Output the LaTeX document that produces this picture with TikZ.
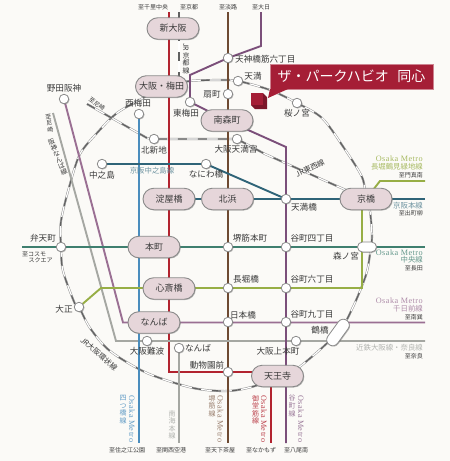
\documentclass[tikz,border=0pt]{standalone}
\usepackage{fontspec}
\usepackage{graphicx}
\setmainfont{Liberation Serif}
\newfontfamily\jp{Noto Sans CJK JP}
\newfontfamily\lat[LetterSpace=6]{Liberation Serif}
\usetikzlibrary{shapes.misc,shadows,backgrounds}
\definecolor{bgc}{HTML}{FBFAF7}
\definecolor{redl}{HTML}{B2232F}
\definecolor{brownl}{HTML}{6E4A32}
\definecolor{purl}{HTML}{7B4F7A}
\definecolor{senl}{HTML}{9A6F93}
\definecolor{greyl}{HTML}{A5A7A2}
\definecolor{bluel}{HTML}{4A8DBD}
\definecolor{keil}{HTML}{2F6478}
\definecolor{chul}{HTML}{3F7F6F}
\definecolor{nagl}{HTML}{97AE45}
\definecolor{boxf}{HTML}{E6D6DA}
\definecolor{brd}{HTML}{8A8A8A}
\definecolor{txt}{HTML}{3A3A3A}
\definecolor{crim}{HTML}{A51E36}
\tikzset{
  shad/.style={drop shadow={shadow xshift=.8pt,shadow yshift=-.8pt,opacity=.45,fill=black!60}},
  st/.style={circle,draw=brd,fill=white,line width=.8pt,inner sep=0pt,minimum size=9.5pt,shad},
  bx/.style={rounded rectangle,draw=brd,fill=boxf,line width=.9pt,inner sep=0pt,minimum width=52pt,minimum height=21.5pt,text=txt,font=\jp\fontsize{9}{9}\selectfont,shad},
  pill/.style={rounded rectangle,draw=brd,fill=white,line width=.8pt,inner sep=0pt,minimum width=#1,minimum height=10pt,shad},
  lb/.style={inner sep=0pt,text=txt,font=\jp\fontsize{8.6}{9}\selectfont},
  sm/.style={inner sep=0pt,text=txt,font=\jp\fontsize{6}{7}\selectfont},
  ln/.style={line width=1.9pt,line join=miter},
  jr/.style={draw=black!45,line width=2.1pt,
    postaction={draw=white,line width=1.2pt},
    postaction={draw=black!62,line width=1.3pt,dash pattern=on 9pt off 11pt}},
  lat8/.style={inner sep=0pt,font=\lat\fontsize{8.2}{9}\selectfont},
  jp8/.style={inner sep=0pt,font=\jp\fontsize{7.4}{9}\selectfont},
  stk/.style={inner sep=0pt,anchor=north,align=center,font=\jp\fontsize{7}{7.6}\selectfont},
}
\begin{document}
\begin{tikzpicture}[x=1pt,y=-1pt]
\useasboundingbox (0,0) rectangle (450,461);
% box stations
\node[bx] (shin) at (173,28.5) {新大阪};
\node[bx] (ume) at (161.5,86.5) {大阪・梅田};
\node[bx] (mina) at (227,120.5) {南森町};
\node[bx] (yodo) at (169,199) {淀屋橋};
\node[bx] (kita) at (227.5,199) {北浜};
\node[bx] (hon) at (154,247) {本町};
\node[bx] (shins) at (169,288.5) {心斎橋};
\node[bx] (nanb) at (154,322.5) {なんば};
\node[bx] (ten) at (277.5,376) {天王寺};
\node[bx] (kyo) at (366,199) {京橋};
\node[pill=19pt] (mori) at (367,247) {};
\node[pill=30pt,minimum height=12pt,rotate=54] (tsuru) at (338,332.5) {};
% small stations
\node[st] (noda) at (64,99) {};
\node[st] (nishi) at (139,114) {};
\node[st] (higa) at (190,102) {};
\node[st] (kshin) at (154,139) {};
\node[st] (naka) at (102,164) {};
\node[st] (nani) at (206,164) {};
\node[st] (tenm) at (237,139) {};
\node[st] (roku) at (228,58) {};
\node[st] (ogi) at (228,94) {};
\node[st] (tenma) at (238,81) {};
\node[st] (saku) at (297,103) {};
\node[st] (tbashi) at (286,199) {};
\node[st] (sakai) at (228,247) {};
\node[st] (tani4) at (286,247) {};
\node[st] (naga) at (228,288) {};
\node[st] (tani6) at (286,288) {};
\node[st] (nippon) at (228,322) {};
\node[st] (tani9) at (286,322) {};
\node[st] (ue) at (296,341) {};
\node[st] (dobu) at (228,372) {};
\node[st] (nank) at (179,348) {};
\node[st] (onan) at (147,341) {};
\node[st] (tais) at (79,307) {};
\node[st] (ben) at (61,247) {};
% free ends and bends
\coordinate (redT) at (169,12);
\coordinate (redB) at (169,372);
\coordinate (redE) at (271,372);
\coordinate (redS) at (271,443);
\coordinate (brT) at (228,12);
\coordinate (brB) at (228,443);
\coordinate (puT) at (261,12);
\coordinate (puA) at (261,46);
\coordinate (puB) at (190,75);
\coordinate (puC) at (286,147);
\coordinate (puS) at (286,443);
\coordinate (senA) at (123,322.5);
\coordinate (senE) at (425,322.5);
\coordinate (kinT) at (53,113);
\coordinate (kinA) at (116,341);
\coordinate (kinE) at (425,341);
\coordinate (blS) at (139,443);
\coordinate (naS) at (179,443);
\coordinate (keiE) at (425,199);
\coordinate (chuW) at (22,247);
\coordinate (chuE) at (425,247);
\coordinate (nagA) at (101,288);
\coordinate (nagB) at (362,288);
\coordinate (nagC) at (362,199);
\coordinate (nagD) at (380,181);
\coordinate (nagE) at (425,181);
\coordinate (kyT) at (179,12);
\coordinate (amaA) at (87,104);
\coordinate (amaB) at (147,138);
\coordinate (tzA) at (265,154);
% loop way points
\coordinate (l1) at (190,81);
\coordinate (l2) at (220,80);
\coordinate (l3) at (270,90);
\coordinate (l4) at (322,118);
\coordinate (l5) at (342,145);
\coordinate (l6) at (362,177);
\coordinate (l7) at (370,211);
\coordinate (l8) at (372,237);
\coordinate (l9) at (370,254);
\coordinate (l10) at (366,275);
\coordinate (l11) at (353,307);
\coordinate (l12) at (298,368);
\coordinate (l13) at (255,386);
\coordinate (l14) at (228,391);
\coordinate (l15) at (193,388);
\coordinate (l16) at (147,373);
\coordinate (l17) at (110,351);
\coordinate (l18) at (90,328);
\coordinate (l19) at (75,304);
\coordinate (l20) at (63,271);
\coordinate (l21) at (61,221);
\coordinate (l22) at (70,184);
\coordinate (l23) at (80,154);
\coordinate (l24) at (97,133);
\coordinate (l25) at (117,113);
\coordinate (l26) at (143,98);
\begin{pgfonlayer}{background}
\fill[bgc] (0,0) rectangle (450,461);
% JR lines
\draw[jr] plot[smooth,tension=.5] coordinates {(ume.center) (l1) (l2) (tenma.center) (l3) (saku.center) (l4) (l5) (l6) (kyo.center) (l7) (l8) (l9) (l10) (l11) (tsuru.center) (l12) (ten.center) (l13) (l14) (l15) (l16) (l17) (l18) (tais.center) (l19) (l20) (ben.center) (l21) (l22) (l23) (l24) (l25) (l26) (ume.center)};
\draw[jr] (kyT) -- (kyT |- ume.center);
\draw[jr] (amaA) -- (amaB) -- (kshin.center) -- (tenm.center) -- (tzA) -- (kyo.center);
% metro lines
\draw[ln,brownl] (brT) -- (brB);
\draw[ln,redl] (redT) -- (redB) -- (redE) -- (redS);
\draw[ln,greyl] (kinT) -- (kinA) -- (kinE);
\draw[ln,greyl] (nank.center) -- (naS);
\draw[ln,senl] (noda.center) -- (senA) -- (senE);
\draw[ln,purl] (puT) -- (puA) -- (roku.center) -- (puB) -- (higa.center) -- (mina.center) -- (puC) -- (puS);
\draw[ln,bluel] (nishi.center) -- (blS);
\draw[ln,keil] (naka.center) -- (nani.center) -- (tbashi.center);
\draw[ln,keil] (yodo.center) -- (kita.center) -- (tbashi.center) -- (kyo.center) -- (keiE);
\draw[ln,chul] (chuW) -- (chuE);
\draw[ln,nagl] (tais.center) -- (nagA) -- (nagB) -- (nagC);
\draw[ln,nagl] (kyo.center) -- (nagD) -- (nagE);
\end{pgfonlayer}
% station labels
\node[lb] (t1) at (64,88) {野田阪神};
\node[lb] (t2) at (138,103) {西梅田};
\node[lb] (t3) at (186,113.5) {東梅田};
\node[lb] (t4) at (154,150) {北新地};
\node[lb] (t5) at (102,175) {中之島};
\node[lb] (t6) at (206,174.5) {なにわ橋};
\node[lb] (t7) at (236,149.5) {大阪天満宮};
\node[lb,anchor=west] (t8) at (235,59) {天神橋筋六丁目};
\node[lb] (t9) at (212,94) {扇町};
\node[lb] (t10) at (253,76) {天満};
\node[lb] (t11) at (297,113.5) {桜ノ宮};
\node[lb] (t12) at (304,207) {天満橋};
\node[lb] (t13) at (250,238) {堺筋本町};
\node[lb] (t14) at (312,238) {谷町四丁目};
\node[lb] (t15) at (346,256) {森ノ宮};
\node[lb] (t16) at (246,279) {長堀橋};
\node[lb] (t17) at (312,279) {谷町六丁目};
\node[lb] (t18) at (243,315) {日本橋};
\node[lb] (t19) at (312,314.5) {谷町九丁目};
\node[lb] (t20) at (320,330.5) {鶴橋};
\node[lb] (t21) at (278,351) {大阪上本町};
\node[lb] (t22) at (207,365) {動物園前};
\node[lb] (t23) at (198,348) {なんば};
\node[lb] (t24) at (147,351) {大阪難波};
\node[lb] (t25) at (64,309) {大正};
\node[lb] (t26) at (43,238) {弁天町};
% destinations
\node[sm] (d1) at (153,7) {至千里中央};
\node[sm] (d2) at (189,7) {至京都};
\node[sm] (d3) at (228,7) {至淡路};
\node[sm] (d4) at (261,7) {至大日};
\node[sm,anchor=west] (d5) at (22,254.5) {至コスモ};
\node[sm,anchor=west] (d6) at (28.5,260.5) {スクエア};
\node[sm] (d7) at (127,450) {至住之江公園};
\node[sm] (d8) at (171,450) {至関西空港};
\node[sm] (d9) at (220,450) {至天下茶屋};
\node[sm] (d10) at (261,450) {至なかもず};
\node[sm] (d11) at (296,450) {至八尾南};
% line names
\node[stk,text=txt] (n1) at (186,43) {\rotatebox{-90}{JR}\\京\\都\\線};
\node[sm,rotate=-35] (n2) at (97,104) {至尼崎};
\node[stk,text=txt,font=\jp\fontsize{6}{6.6}\selectfont,rotate=8] (n3) at (48,114) {至\\尼\\崎};
\node[stk,text=txt,font=\jp\fontsize{6.6}{6.6}\selectfont,rotate=22] (n4) at (50.5,139) {阪\\神\\な\\ん\\ば\\線};
\node[jp8,text=keil!70] (n5) at (152,171) {京阪中之島線};
\node[sm,font=\jp\fontsize{7.4}{8}\selectfont,rotate=25] (n6) at (310,168) {JR東西線};
\node[sm,font=\jp\fontsize{7.4}{8}\selectfont,rotate=-41] (n7) at (99,354) {JR大阪環状線};
% right labels
\node[lat8,anchor=east,text=nagl!85] (r1) at (423,159) {Osaka Metro};
\node[jp8,anchor=east,text=nagl!85] (r2) at (423,167) {長堀鶴見緑地線};
\node[sm,anchor=east] (r3) at (423,175) {至門真南};
\node[jp8,anchor=east,text=keil!70] (r4) at (423,206) {京阪本線};
\node[sm,anchor=east] (r5) at (423,213.5) {至出町柳};
\node[lat8,anchor=east,text=chul!80] (r6) at (423,253) {Osaka Metro};
\node[jp8,anchor=east,text=chul!80] (r7) at (423,260) {中央線};
\node[sm,anchor=east] (r8) at (423,268) {至長田};
\node[lat8,anchor=east,text=senl!80] (r9) at (423,301) {Osaka Metro};
\node[jp8,anchor=east,text=senl!80] (r10) at (423,309) {千日前線};
\node[sm,anchor=east] (r11) at (423,317) {至南巽};
\node[jp8,anchor=east,text=greyl!85] (r12) at (423,348) {近鉄大阪線・奈良線};
\node[sm,anchor=east] (r13) at (423,356) {至奈良};
% vertical labels
\node[lat8,anchor=west,rotate=-90,text=bluel!85] (v1) at (132,395) {Osaka Metro};
\node[stk,text=bluel!85] (v2) at (123,395) {四\\つ\\橋\\線};
\node[stk,text=greyl!85] (v3) at (172,410) {南\\海\\本\\線};
\node[lat8,anchor=west,rotate=-90,text=brownl!70] (v4) at (220.5,395) {Osaka Metro};
\node[stk,text=brownl!70] (v5) at (212,395) {堺\\筋\\線};
\node[lat8,anchor=west,rotate=-90,text=redl!85] (v6) at (264,395) {Osaka Metro};
\node[stk,text=redl!85] (v7) at (255.5,395) {御\\堂\\筋\\線};
\node[lat8,anchor=west,rotate=-90,text=purl!75] (v8) at (301,395) {Osaka Metro};
\node[stk,text=purl!75] (v9) at (292,395) {谷\\町\\線};
% site marker and callout
\fill[crim!75!black] (263,93) -- (267,97) -- (267,109) -- (255,109) -- (251,105) -- (263,105) -- cycle;
\fill[crim] (251,93) rectangle (263,105);
\node[draw=crim!55!white,line width=.6pt,fill=crim,text=white,inner sep=0pt,minimum width=163pt,minimum height=25pt,font=\jp\fontsize{14}{14}\selectfont] (call) at (351.5,76.5) {ザ・パークハビオ\hspace{.6em}同心};
\coordinate (tipA) at (268,98);
\coordinate (tipB) at (270,89);
\coordinate (tipC) at (288,89);
\fill[crim] (tipA) -- (tipB) -- (tipC) -- cycle;
\end{tikzpicture}
\end{document}
